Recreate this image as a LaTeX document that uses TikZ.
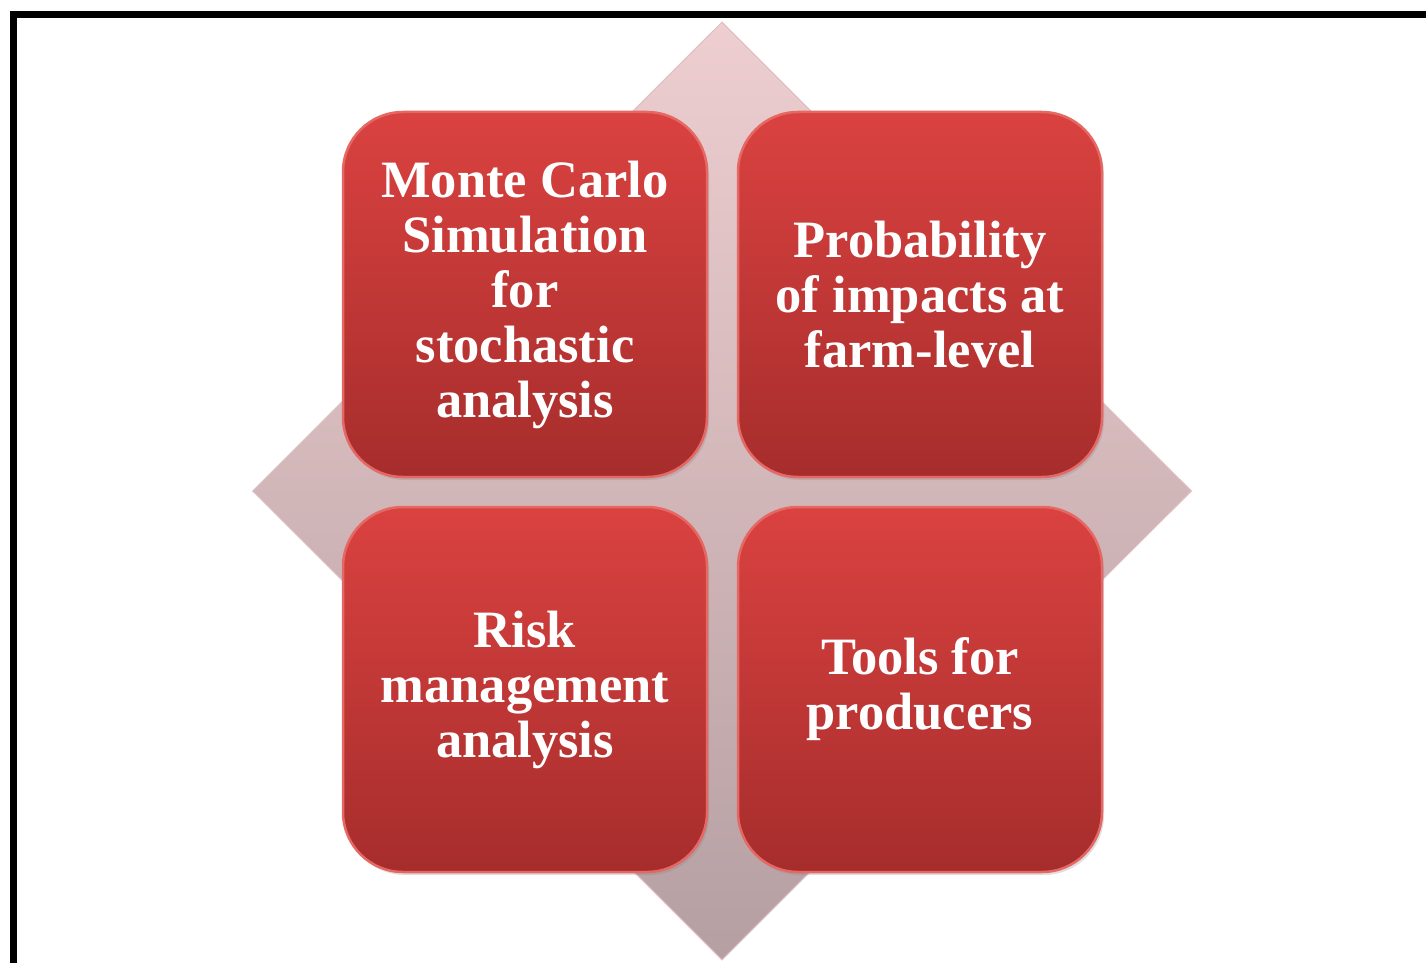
\documentclass[tikz,border=0pt]{standalone}
\usepackage{fontspec}
\setmainfont{Liberation Serif}
\usepackage{tikz}
\usepackage{xcolor}
\usetikzlibrary{positioning,shapes.geometric,shadows}

\definecolor{boxtop}{RGB}{218,66,64}
\definecolor{boxbottom}{RGB}{166,45,44}
\definecolor{boxedge}{RGB}{230,104,100}
\definecolor{diamtop}{RGB}{238,206,208}
\definecolor{diambottom}{RGB}{181,159,162}
\definecolor{diamedge}{RGB}{222,190,193}

\tikzset{
  quad/.style={rounded corners=60pt, minimum width=364pt, minimum height=365pt,
    inner sep=0pt, outer sep=0pt, top color=boxtop, bottom color=boxbottom,
    draw=boxedge, line width=2.5pt, text=white, align=center,
    font=\fontsize{52.5}{55}\selectfont\bfseries,
    drop shadow={opacity=0.25, shadow xshift=2pt, shadow yshift=-3pt}},
  backdrop/.style={diamond, minimum width=939pt, minimum height=938pt,
    inner sep=0pt, top color=diamtop, bottom color=diambottom,
    draw=diamedge, line width=1pt}
}

\begin{document}
\begin{tikzpicture}[x=1pt, y=-1pt]
    \useasboundingbox (0,0) rectangle (1426,963);
    \fill[white] (0,0) rectangle (1426,963);

    % Frame
    \draw[line width=7pt] (13,963) -- (13,15) -- (1426,15);

    % Diamond behind the boxes
    \node[backdrop] (diam) at (722,491) {};

    % Four boxes
    \node[quad] (monte) at (525,294.5) {Monte Carlo\\Simulation\\for\\stochastic\\analysis};
    \node[quad, right=31pt of monte] (prob) {Probability\\of impacts at\\farm-level};
    \node[quad, below=30pt of monte] (risk) {Risk\\management\\analysis};
    \node[quad, right=31pt of risk] (tools) {Tools for\\producers};
\end{tikzpicture}
\end{document}
